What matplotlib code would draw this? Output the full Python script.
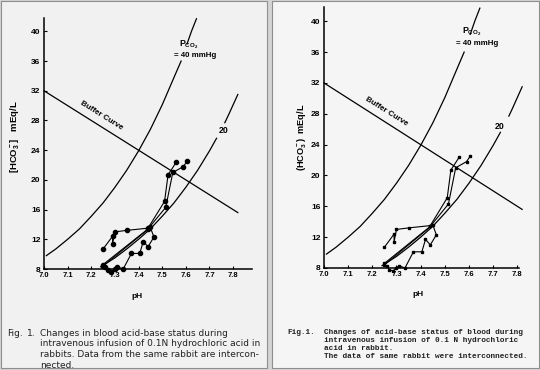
import matplotlib
matplotlib.use("Agg")
import matplotlib.pyplot as plt
from matplotlib.patches import Rectangle

plt.rcParams["font.family"] = ["Liberation Sans", "DejaVu Sans"]
plt.rcParams["mathtext.fontset"] = "custom"
plt.rcParams["mathtext.rm"] = "Liberation Sans:bold"
plt.rcParams["mathtext.it"] = "Liberation Sans:bold"
plt.rcParams["mathtext.bf"] = "Liberation Sans:bold"

W, H = 540, 370

# ---- data -------------------------------------------------------------
ph_ticks = [7.0, 7.1, 7.2, 7.3, 7.4, 7.5, 7.6, 7.7, 7.8]
hco3_ticks = [8, 12, 16, 20, 24, 28, 32, 36, 40]

buffer_ph = [7.0, 7.82]
buffer_hco3 = [32.0, 15.6]

# PCO2 = 40 mmHg isobar (split where the label sits)
iso40_lo_ph = [7.01, 7.05, 7.10, 7.15, 7.20, 7.25, 7.30, 7.35, 7.40, 7.45, 7.50, 7.55, 7.58]
iso40_lo_hco3 = [9.8, 10.7, 12.0, 13.4, 15.1, 16.9, 19.0, 21.3, 23.9, 26.8, 30.1, 33.8, 36.0]
iso40_hi_ph = [7.605, 7.625, 7.645]
iso40_hi_hco3 = [38.3, 40.1, 41.7]

# PCO2 = 20 mmHg isobar
iso20_lo_ph = [7.24, 7.25, 7.30, 7.35, 7.40, 7.45, 7.50, 7.55, 7.60, 7.65, 7.70, 7.73]
iso20_lo_hco3 = [8.3, 8.5, 9.5, 10.7, 12.0, 13.4, 15.1, 16.9, 19.0, 21.3, 23.9, 25.6]
iso20_hi_ph = [7.765, 7.78, 7.80, 7.82]
iso20_hi_hco3 = [27.7, 28.7, 30.1, 31.5]

# individual rabbits (points connected in order)
rabbit1_ph = [7.25, 7.29, 7.29, 7.30, 7.35, 7.44, 7.51, 7.525, 7.56]
rabbit1_hco3 = [10.7, 12.4, 11.4, 13.0, 13.2, 13.5, 17.1, 20.7, 22.4]
rabbit2_ph = [7.25, 7.44, 7.515, 7.545, 7.59, 7.605]
rabbit2_hco3 = [8.6, 13.4, 16.3, 21.0, 21.8, 22.5]
rabbit3_ph = [7.25, 7.45, 7.465, 7.44, 7.42, 7.405, 7.37, 7.335, 7.31, 7.30, 7.285, 7.27, 7.26]
rabbit3_hco3 = [8.4, 13.6, 12.3, 11.0, 11.7, 10.1, 10.1, 8.0, 8.3, 8.0, 7.6, 7.8, 8.3]

rabbits = [(rabbit1_ph, rabbit1_hco3), (rabbit2_ph, rabbit2_hco3), (rabbit3_ph, rabbit3_hco3)]


def px_axes(fig, x0, x1, ytop, ybot):
    return fig.add_axes([x0 / W, 1 - ybot / H, (x1 - x0) / W, (ybot - ytop) / H])


def draw_panel(ax, xmax, ymax, marker, msize, lbl):
    ax.set_facecolor("none")
    ax.set_xlim(7.0, xmax)
    ax.set_ylim(8, ymax)
    for s in ("top", "right"):
        ax.spines[s].set_visible(False)
    for s in ("left", "bottom"):
        ax.spines[s].set_linewidth(1.1)
    ax.set_xticks(ph_ticks)
    ax.set_xticklabels([f"{v:.1f}" for v in ph_ticks], fontsize=5.5, fontweight="bold")
    ax.set_yticks(hco3_ticks)
    ax.set_yticklabels([str(v) for v in hco3_ticks], fontsize=6, fontweight="bold")
    ax.tick_params(direction="in", length=2.5, width=0.8, pad=2.5)

    ax.plot(buffer_ph, buffer_hco3, color="black", lw=0.9, clip_on=False)
    for xs, ys in [(iso40_lo_ph, iso40_lo_hco3), (iso40_hi_ph, iso40_hi_hco3),
                   (iso20_lo_ph, iso20_lo_hco3), (iso20_hi_ph, iso20_hi_hco3)]:
        ax.plot(xs, ys, color="black", lw=0.9, clip_on=False)

    for xs, ys in rabbits:
        ax.plot(xs, ys, color="black", lw=0.8, marker=marker, ms=msize, clip_on=False)

    ax.text(lbl["buf"][0], lbl["buf"][1], "Buffer Curve", rotation=-32,
            ha="center", va="center", fontsize=5.8, fontweight="bold")
    ax.text(lbl["p"][0], lbl["p"][1], r"P$_{\mathrm{CO}_2}$", ha="center", va="center",
            fontsize=6.3, fontweight="bold")
    ax.text(lbl["mm"][0], lbl["mm"][1], "= 40 mmHg", ha="center", va="center",
            fontsize=5.7, fontweight="bold")
    ax.text(lbl["20"][0], lbl["20"][1], "20", ha="center", va="center",
            fontsize=6.3, fontweight="bold")


fig = plt.figure(figsize=(5.4, 3.7), dpi=100, facecolor="#d4d4d4")
for x0, x1, fc in [(1, 267, "#f1f1f1"), (272, 539, "#f5f5f5")]:
    fig.patches.append(Rectangle((x0 / W, 2 / H), (x1 - x0) / W, 367 / H,
                                 transform=fig.transFigure, facecolor=fc,
                                 edgecolor="#8e8e8e", lw=0.8, zorder=-10))

# left panel
ax1 = px_axes(fig, 44, 252, 18, 269)
draw_panel(ax1, 7.88, 41.8, "o", 3.0,
           {"buf": (7.245, 28.6), "p": (7.613, 38.2), "mm": (7.638, 36.7), "20": (7.758, 26.6)})
fig.text(15 / W, 1 - 137 / H, r"[HCO$_3^-$]   mEq/L", rotation=90, ha="center", va="center",
         fontsize=6.8, fontweight="bold")
fig.text(137 / W, 1 - 296 / H, "pH", ha="center", va="center", fontsize=6, fontweight="bold")

cap1 = ["Changes in blood acid-base status during",
        "intravenous infusion of 0.1N hydrochloric acid in",
        "rabbits. Data from the same rabbit are intercon-",
        "nected."]
fig.text(7 / W, 1 - 333 / H, "Fig.", ha="left", va="center", fontsize=6.5,
         family="DejaVu Sans", color="#222222")
fig.text(27 / W, 1 - 333 / H, "1.", ha="left", va="center", fontsize=6.5,
         family="DejaVu Sans", color="#222222")
for i, line in enumerate(cap1):
    fig.text(40 / W, 1 - (333 + i * 10.7) / H, line, ha="left", va="center", fontsize=6.5,
             family="DejaVu Sans", color="#222222")

# right panel
ax2 = px_axes(fig, 324, 519, 7, 268)
draw_panel(ax2, 7.807, 41.85, "s", 1.8,
           {"buf": (7.26, 28.3), "p": (7.61, 38.6), "mm": (7.635, 37.1), "20": (7.728, 26.4)})
fig.text(302 / W, 1 - 137 / H, r"(HCO$_3^-$)  mEq/L", rotation=90, ha="center", va="center",
         fontsize=6.6, fontweight="bold")
fig.text(418 / W, 1 - 295 / H, "pH", ha="center", va="center", fontsize=6, fontweight="bold")

cap2 = ["Changes of acid-base status of blood during",
        "intravenous infusion of 0.1 N hydrochloric",
        "acid in rabbit.",
        "The data of same rabbit were interconnected."]
fig.text(287 / W, 1 - 332 / H, "Fig.1.", ha="left", va="center", fontsize=5.6,
         family="Liberation Mono", fontweight="bold", color="#222222")
for i, line in enumerate(cap2):
    fig.text(324 / W, 1 - (332 + i * 8.3) / H, line, ha="left", va="center", fontsize=5.6,
             family="Liberation Mono", fontweight="bold", color="#222222")

fig.savefig("out.png", dpi=100, facecolor=fig.get_facecolor())
